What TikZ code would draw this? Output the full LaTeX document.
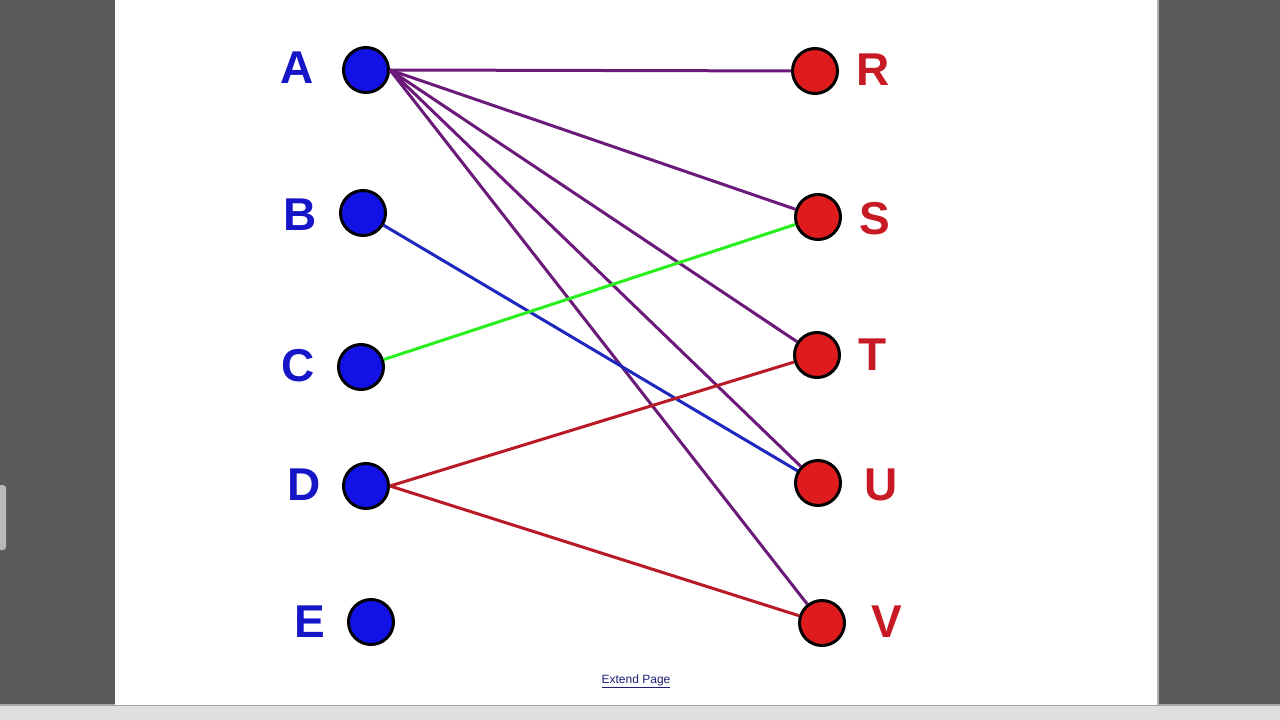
\documentclass[tikz,border=0pt]{standalone}
\usepackage{fontspec}
\setmainfont{Liberation Sans}
\usepackage{xcolor}
\usetikzlibrary{positioning}

\definecolor{leftblue}{RGB}{18,18,230}
\definecolor{rightred}{RGB}{222,28,30}
\definecolor{lblblue}{RGB}{22,22,200}
\definecolor{lblred}{RGB}{200,26,36}
\definecolor{edgepurple}{RGB}{108,26,122}
\definecolor{edgeblue}{RGB}{30,40,190}
\definecolor{edgegreen}{RGB}{40,240,30}
\definecolor{edgered}{RGB}{184,26,40}
\definecolor{screengray}{RGB}{90,90,90}
\definecolor{linknavy}{RGB}{30,30,120}

\begin{document}
\begin{tikzpicture}[
    x=1pt, y=-1pt,
    vtx/.style={
        circle,
        draw=black,
        line width=3pt,
        minimum size=45pt,
        inner sep=0pt
    },
    lvtx/.style={vtx, fill=leftblue},
    rvtx/.style={vtx, fill=rightred},
    llbl/.style={
        font=\fontsize{46}{46}\selectfont\bfseries,
        text=lblblue
    },
    rlbl/.style={
        font=\fontsize{46}{46}\selectfont\bfseries,
        text=lblred
    },
    match/.style={
        line width=3pt
    }
]

%-------------------------------------------------
% Screen and page
%-------------------------------------------------

\useasboundingbox (0,0) rectangle (1280,720);
\fill[screengray] (0,0) rectangle (1280,720);
\fill[gray!25] (0,705) rectangle (1280,720);
\draw[gray!70, line width=1.5pt] (0,705) -- (1280,705);
\fill[white] (115,0) rectangle (1158,705);
\draw[gray!60, line width=1.5pt] (1158,0) -- (1158,705);
\fill[gray!55, rounded corners=3pt] (-6,485) rectangle (6,550);

%-------------------------------------------------
% Left vertices
%-------------------------------------------------

\node[lvtx] (A) at (366,70) {};
\node[lvtx] (B) at (363,213) {};
\node[lvtx] (C) at (361,367) {};
\node[lvtx] (D) at (366,486) {};
\node[lvtx] (E) at (371,622) {};

\node[llbl] (lA) at (297,68) {A};
\node[llbl] (lB) at (300,215) {B};
\node[llbl] (lC) at (298,366) {C};
\node[llbl] (lD) at (304,485) {D};
\node[llbl] (lE) at (310,622) {E};

%-------------------------------------------------
% Right vertices
%-------------------------------------------------

\node[rvtx] (R) at (815,71) {};
\node[rvtx] (S) at (818,217) {};
\node[rvtx] (T) at (817,355) {};
\node[rvtx] (U) at (818,483) {};
\node[rvtx] (V) at (822,623) {};

\node[rlbl] (lR) at (873,70) {R};
\node[rlbl] (lS) at (875,219) {S};
\node[rlbl] (lT) at (873,355) {T};
\node[rlbl] (lU) at (881,485) {U};
\node[rlbl] (lV) at (887,622) {V};

%-------------------------------------------------
% Edges
%-------------------------------------------------

\draw[match, edgepurple] (A.east)--(R);
\draw[match, edgepurple] (A.east)--(S);
\draw[match, edgepurple] (A.east)--(T);
\draw[match, edgepurple] (A.east)--(U);
\draw[match, edgepurple] (A.east)--(V);
\draw[match, edgeblue] (B)--(U);
\draw[match, edgegreen] (C)--(S);
\draw[match, edgered] (D.east)--(T);
\draw[match, edgered] (D.east)--(V);

%-------------------------------------------------
% Page link
%-------------------------------------------------

\node[font=\fontsize{12}{12}\selectfont, text=linknavy] (ext) at (636,681)
{\underline{Extend Page}};

\end{tikzpicture}
\end{document}
